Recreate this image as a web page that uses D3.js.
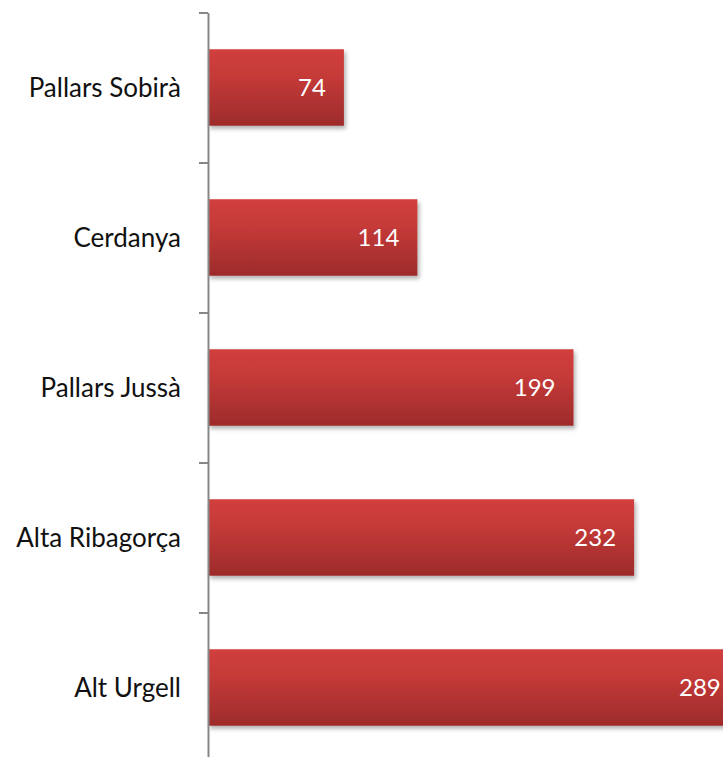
<!DOCTYPE html>
<html>
<head>
<meta charset="utf-8">
<script src="https://cdn.jsdelivr.net/npm/d3@7"></script>
<style>
  html, body { margin: 0; padding: 0; background: #fff; overflow: hidden; }
  svg { display: block; }
</style>
</head>
<body>
<div id="chart"></div>
<script>
// comarques, de dalt a baix
var comarques = ["Pallars Sobirà", "Cerdanya", "Pallars Jussà", "Alta Ribagorça", "Alt Urgell"];
var valors = [74, 114, 199, 232, 289];

var width = 723, height = 757;
var axisX = 208;

var svg = d3.select("#chart")
    .append("svg")
    .attr("width", width)
    .attr("height", height);

var defs = svg.append("defs");

var grad = defs.append("linearGradient")
    .attr("id", "barGrad")
    .attr("x1", 0).attr("y1", 0)
    .attr("x2", 0).attr("y2", 1);
grad.append("stop").attr("offset", "0%").attr("stop-color", "#d13f3d");
grad.append("stop").attr("offset", "35%").attr("stop-color", "#c53a38");
grad.append("stop").attr("offset", "100%").attr("stop-color", "#9d2b2b");

var shadow = defs.append("filter")
    .attr("id", "shadow")
    .attr("x", "-5%").attr("y", "-10%")
    .attr("width", "115%").attr("height", "140%");
shadow.append("feDropShadow")
    .attr("dx", 2).attr("dy", 3)
    .attr("stdDeviation", 2)
    .attr("flood-color", "#000")
    .attr("flood-opacity", 0.3);

var y = d3.scaleBand()
    .domain(comarques)
    .range([12.5, 762.5])
    .paddingInner(0.49)
    .paddingOuter(0.245);

var x = d3.scaleLinear()
    .domain([0, 300])
    .range([axisX, axisX + 551]);

// bars
var bar = svg.selectAll(".bar")
    .data(comarques)
    .enter()
    .append("g")
    .attr("class", "bar");

bar.append("rect")
    .attr("x", x(0))
    .attr("y", function(d) { return y(d); })
    .attr("width", function(d, i) { return x(valors[i]) - x(0); })
    .attr("height", y.bandwidth())
    .attr("fill", "url(#barGrad)")
    .attr("filter", "url(#shadow)");

bar.append("text")
    .attr("x", function(d, i) { return x(valors[i]) - 18; })
    .attr("y", function(d) { return y(d) + y.bandwidth() / 2; })
    .attr("dy", "0.36em")
    .attr("text-anchor", "end")
    .attr("font-family", "Lato, 'Open Sans', sans-serif")
    .attr("font-size", 24)
    .attr("fill", "#fff")
    .text(function(d, i) { return valors[i]; });

// axis with ticks on the band edges
var edges = d3.scaleLinear()
    .domain([0, comarques.length])
    .range([12.5, 762.5]);

var axis = svg.append("g")
    .attr("transform", "translate(" + axisX + ",0)")
    .call(d3.axisLeft(edges)
        .tickValues(d3.range(0, comarques.length + 1))
        .tickFormat("")
        .tickSize(9)
        .tickSizeOuter(0));
axis.selectAll("path, line")
    .attr("stroke", "#878787")
    .attr("stroke-width", 2);

svg.selectAll(".label")
    .data(comarques)
    .enter()
    .append("text")
    .attr("class", "label")
    .attr("x", 181)
    .attr("y", function(d) { return y(d) + y.bandwidth() / 2; })
    .attr("dy", "0.36em")
    .attr("text-anchor", "end")
    .attr("font-family", "Lato, 'Open Sans', sans-serif")
    .attr("font-size", 26)
    .attr("fill", "#111")
    .text(function(d) { return d; });
</script>
</body>
</html>
